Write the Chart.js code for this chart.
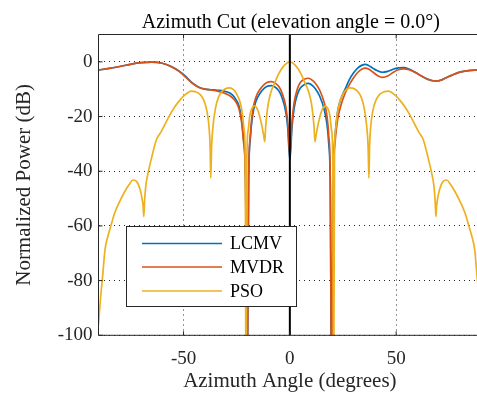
<!DOCTYPE html>
<html><head><meta charset="utf-8">
<script src="https://cdn.jsdelivr.net/npm/chart.js@4/dist/chart.umd.min.js"></script>
<style>
html,body{margin:0;padding:0;background:#fff;overflow:hidden;width:477px;height:396px}
#wrap{position:absolute;left:0;top:0;width:482px;height:396px}
</style>
</head><body><div id="wrap"><canvas id="c" width="482" height="396"></canvas></div>
<script>
const chartTitle = 'Azimuth Cut (elevation angle = 0.0°)';
const xTitle = 'Azimuth Angle (degrees)';
const yTitle = 'Normalized Power (dB)';
const seriesNames = ['LCMV', 'MVDR', 'PSO'];
const xTicks = [-50, 0, 50];
const yTicks = [-100, -80, -60, -40, -20, 0];

const azimuthAngles = [-90,-85,-80,-75,-70,-65,-60,-56,-52,-49,-46,-43,-40,-37,-34,-31,-28,-26,-24,-22.8,-21.8,-20.8,-20.1,-19.4,-18.6,-17.5,-16,-14,-12,-10,-8.6,-7,-5,-3.5,-2,-1,0,1,2,3.5,5,7,8.6,10,12,14,16,17.5,18.3,19,19.7,20.4,21.2,22.5,24,26,28,30,32,34,35.5,37,39,41,43.5,46,48.5,51,53.5,56,59,62,65,68,69.5,72,75,78,81,84,87,90];
const lcmvPower = [-3.0,-2.4,-1.7,-0.9,-0.3,-0.1,-0.5,-1.6,-3.4,-5.3,-7.6,-9.2,-10.0,-10.2,-10.4,-10.7,-11.5,-13.0,-16.0,-20.5,-28,-45,-130,-45,-28,-19.5,-14.5,-11.5,-9.6,-8.8,-8.7,-9.2,-10.8,-13.5,-18,-24,-36,-24,-17,-12,-9.5,-8.2,-7.9,-8.3,-9.8,-12.5,-17,-23,-30,-45,-130,-45,-28,-18,-13.5,-10,-6.5,-4.0,-2.2,-1.2,-0.9,-1.3,-2.3,-3.2,-3.8,-3.5,-2.7,-2.2,-2.1,-2.6,-3.8,-5.2,-6.4,-7.0,-7.0,-6.4,-5.3,-4.3,-3.6,-3.2,-3.0,-2.9];
const mvdrPower = [-3.0,-2.4,-1.7,-0.9,-0.3,-0.1,-0.5,-1.7,-3.6,-5.6,-7.8,-9.3,-10.0,-10.3,-10.7,-11.4,-12.5,-14.0,-17.0,-21.5,-29,-46,-130,-44,-27,-18,-13,-10,-8.2,-7.3,-7.2,-7.7,-9.2,-11.8,-16,-22,-34,-22,-15,-10,-7.5,-6.3,-6.0,-6.4,-7.8,-10.3,-14.5,-20,-27,-42,-130,-46,-30,-21,-16,-11.5,-8.3,-5.8,-3.8,-2.6,-2.3,-2.6,-3.7,-4.9,-5.7,-5.2,-3.9,-2.9,-2.6,-2.9,-3.9,-5.3,-6.4,-7.0,-7.0,-6.4,-5.3,-4.3,-3.6,-3.2,-3.0,-2.9];

const psoAngles = [-90,-89,-88,-87,-85.5,-84,-82.4,-80,-77.7,-75.5,-73.8,-72,-70.5,-69.5,-69,-68.7,-68.3,-67.7,-66.7,-65,-62.8,-60.5,-58.9,-56.5,-54.1,-51.5,-49.4,-47.5,-46.3,-44.5,-42.4,-40.5,-39,-38,-37.5,-37.2,-36.8,-36.2,-35,-33.5,-31.5,-29.5,-28.2,-26.5,-25,-23.5,-22.3,-21.5,-21,-20.6,-20.2,-19.6,-18.8,-17.7,-16.5,-15.2,-14,-13,-12.3,-11.8,-11.4,-10.8,-10.2,-9.4,-8.6,-7,-5.5,-4,-2.5,-1,0,1,2.5,4,5.5,7,8.6,9.4,10.2,10.8,11.4,11.8,12.3,13,14,15.2,16.5,17.7,18.8,19.6,20.2,20.6,21,21.5,22.3,23.5,25,26.5,28.2,29.5,31.5,33.5,35,36.2,36.8,37.2,37.5,38,39,40.5,42.4,44.5,46.3,47.5,49.4,51.5,54.1,56.5,58.9,60.5,62.8,65,66.7,67.7,68.3,68.7,69,69.5,70.5,72,73.8,75.5,77.7,80,82.4,84,85.5,87,88,89,90];
const psoPower = [-96,-86,-78,-69,-63.5,-59.5,-55.3,-51,-47.5,-44.8,-43.2,-43.8,-46.5,-50,-53,-56.6,-50.5,-45,-40.7,-35,-28.6,-25.5,-23.1,-19.5,-16.4,-13.8,-12.1,-11.0,-10.7,-10.9,-11.8,-14,-18,-24,-31,-42.5,-31,-24,-17,-12.8,-10.5,-9.6,-9.5,-10.2,-11.8,-14.5,-19,-25,-34,-130,-35,-25,-19.5,-16.8,-16.2,-17.5,-20.5,-24,-27,-29.2,-24,-19,-15.5,-12.5,-10.4,-7.5,-4.8,-2.7,-1.2,-0.2,0,-0.2,-1.2,-2.7,-4.8,-7.5,-10.4,-12.5,-15.5,-19,-24,-29.2,-27,-24,-20.5,-17.5,-16.2,-16.8,-19.5,-25,-35,-130,-34,-25,-19,-14.5,-11.8,-10.2,-9.5,-9.6,-10.5,-12.8,-17,-24,-31,-42.5,-31,-24,-18,-14,-11.8,-10.9,-10.7,-11.0,-12.1,-13.8,-16.4,-19.5,-23.1,-25.5,-28.6,-35,-40.7,-45,-50.5,-56.6,-53,-50,-46.5,-43.8,-43.2,-44.8,-47.5,-51,-55.3,-59.5,-63.5,-69,-78,-86,-96];

const zeroLineAngles = [0, 0];
const zeroLinePower = [10, -100];

const FONT = '"Liberation Serif", "Times New Roman", serif';
const INK = '#262626';
const pts = (xs, ys) => xs.map((x, i) => ({x: x, y: ys[i]}));

const colors = ['#0072BD', '#D95319', '#EDB120'];

const framePlugin = {
  id: 'frame',
  afterDatasetsDraw(chart) {
    const ctx = chart.ctx, a = chart.chartArea;
    const xs = chart.scales.x, ys = chart.scales.y;
    ctx.save();
    ctx.strokeStyle = INK; ctx.lineWidth = 1; ctx.setLineDash([]);
    ctx.beginPath();
    ctx.moveTo(a.right + 2, a.top); ctx.lineTo(a.left, a.top); ctx.lineTo(a.left, a.bottom); ctx.lineTo(a.right + 2, a.bottom);
    ctx.stroke();
    ctx.beginPath();
    xTicks.forEach(v => {
      const px = xs.getPixelForValue(v);
      ctx.moveTo(px, a.bottom); ctx.lineTo(px, a.bottom - 4);
      ctx.moveTo(px, a.top); ctx.lineTo(px, a.top + 4);
    });
    yTicks.forEach(v => {
      const py = ys.getPixelForValue(v);
      ctx.moveTo(a.left, py); ctx.lineTo(a.left + 4, py);
    });
    ctx.stroke();
    const bx = 126.5, by = 226.5, bw = 170, bh = 80;
    ctx.fillStyle = '#fff';
    ctx.fillRect(bx, by, bw, bh);
    ctx.strokeStyle = INK; ctx.lineWidth = 1;
    ctx.strokeRect(bx, by, bw, bh);
    const rows = [243.5, 267, 291];
    ctx.font = '18px ' + FONT;
    ctx.textBaseline = 'middle';
    ctx.textAlign = 'left';
    chart.data.datasets.slice(0, 3).forEach((ds, i) => {
      ctx.strokeStyle = ds.borderColor; ctx.lineWidth = 1.7;
      ctx.beginPath(); ctx.moveTo(142, rows[i]); ctx.lineTo(222, rows[i]); ctx.stroke();
      ctx.fillStyle = '#000';
      ctx.fillText(ds.label, 230, rows[i] + 1);
    });
    ctx.font = '20px ' + FONT;
    ctx.textAlign = 'center';
    ctx.textBaseline = 'alphabetic';
    ctx.fillStyle = '#000';
    ctx.fillText(chartTitle, (a.left + a.right) / 2 + 1, 28);
    ctx.restore();
  }
};

const lineDs = (label, data, color, order) => ({
  label, data, borderColor: color, backgroundColor: color, borderWidth: 1.7,
  pointRadius: 0, fill: false, cubicInterpolationMode: 'monotone', order
});

new Chart(document.getElementById('c'), {
  type: 'line',
  data: {
    datasets: [
      lineDs(seriesNames[0], pts(azimuthAngles, lcmvPower), colors[0], 3),
      lineDs(seriesNames[1], pts(azimuthAngles, mvdrPower), colors[1], 2),
      lineDs(seriesNames[2], pts(psoAngles, psoPower), colors[2], 1),
      {label: 'zero', data: pts(zeroLineAngles, zeroLinePower), borderColor: '#000', borderWidth: 2, pointRadius: 0, order: 0}
    ]
  },
  options: {
    responsive: false, animation: false, devicePixelRatio: 1,
    layout: {padding: {left: 0, right: 0.8, top: 34.5, bottom: 0}},
    plugins: {legend: {display: false}, tooltip: {enabled: false}, title: {display: false}},
    scales: {
      x: {
        type: 'linear', min: -90, max: 90,
        afterFit(s) { s.height = 60.7; },
        afterBuildTicks(s) { s.ticks = xTicks.map(v => ({value: v})); },
        grid: {color: INK, lineWidth: 1, drawTicks: false},
        border: {display: false, dash: [1, 4]},
        ticks: {padding: 12, font: {family: FONT, size: 19}, color: INK, maxRotation: 0, callback: v => String(v)},
        title: {display: true, text: xTitle, font: {family: FONT, size: 21}, color: INK, padding: {top: 0, bottom: 2}}
      },
      y: {
        type: 'linear', min: -100, max: 10,
        afterFit(s) { s.width = 98.5; },
        afterBuildTicks(s) { s.ticks = yTicks.map(v => ({value: v})); },
        grid: {color: INK, lineWidth: 1, drawTicks: false},
        border: {display: false, dash: [1, 4]},
        ticks: {padding: 6, font: {family: FONT, size: 19}, color: INK, callback: v => String(v)},
        title: {display: true, text: yTitle, font: {family: FONT, size: 21}, color: INK, padding: {top: 12, bottom: 0}}
      }
    }
  },
  plugins: [framePlugin]
});
</script>
</body></html>
